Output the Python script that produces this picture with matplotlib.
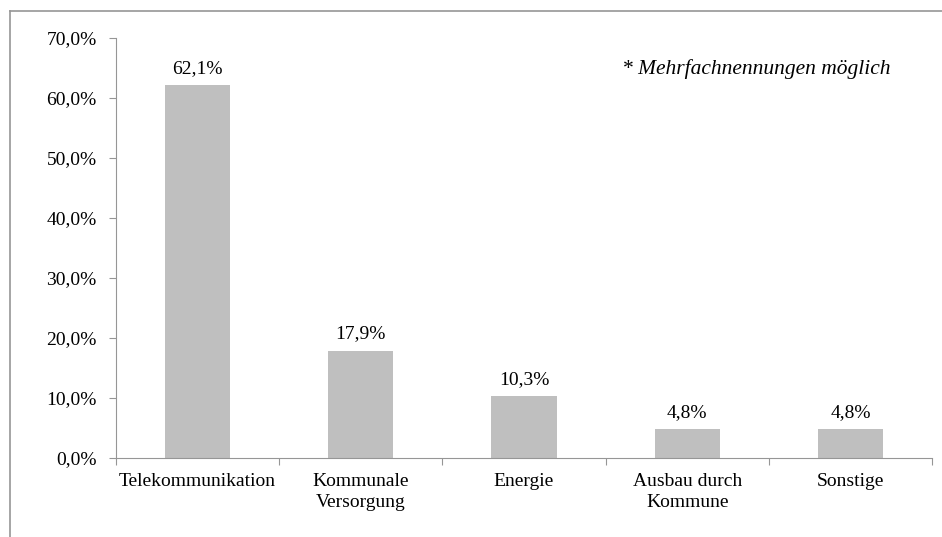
import matplotlib.pyplot as plt
from matplotlib.lines import Line2D

categories = ["Telekommunikation", "Kommunale\nVersorgung", "Energie", "Ausbau durch\nKommune", "Sonstige"]
values = [62.1, 17.9, 10.3, 4.8, 4.8]
yticks = [0, 10, 20, 30, 40, 50, 60, 70]

plt.rcParams['font.family'] = ['Liberation Serif', 'DejaVu Serif']
plt.rcParams['font.size'] = 14

axis_col = '#969696'
fig = plt.figure(figsize=(9.42, 5.37), dpi=100)
ax = fig.add_axes([116 / 942, 1 - 458 / 537, (932 - 116) / 942, (458 - 38) / 537])

x = range(len(categories))
ax.bar(x, values, width=0.4, color='#BFBFBF')
for i, v in zip(x, values):
    ax.text(i, v + 1.4, f"{v:.1f}%".replace('.', ','), ha='center', va='bottom')

ax.set_xlim(-0.5, len(categories) - 0.5)
ax.set_ylim(0, 70)
ax.set_yticks(yticks)
ax.set_yticklabels([f"{t:.1f}%".replace('.', ',') for t in yticks])
ax.set_xticks([i - 0.5 for i in range(len(categories) + 1)])
ax.set_xticklabels([])
ax.set_xticks(list(x), minor=True)
ax.set_xticklabels(categories, minor=True, va='top', linespacing=1.3)
ax.tick_params(axis='x', which='minor', length=0, pad=11)
ax.tick_params(axis='x', which='major', length=5, color=axis_col, direction='out')
ax.tick_params(axis='y', length=5, color=axis_col, pad=9)

for s in ['top', 'right']:
    ax.spines[s].set_visible(False)
for s in ['left', 'bottom']:
    ax.spines[s].set_color(axis_col)

ax.text(0.949, 0.926, "* Mehrfachnennungen möglich", transform=ax.transAxes,
        ha='right', va='center', style='italic', fontsize=15.5)

# chart frame (left and top edges visible)
fig.add_artist(Line2D([10 / 942, 10 / 942], [0, 1 - 11 / 537], color=axis_col, lw=1.2, transform=fig.transFigure))
fig.add_artist(Line2D([10 / 942, 1], [1 - 11 / 537, 1 - 11 / 537], color=axis_col, lw=1.2, transform=fig.transFigure))

fig.savefig("out.png", dpi=100)
